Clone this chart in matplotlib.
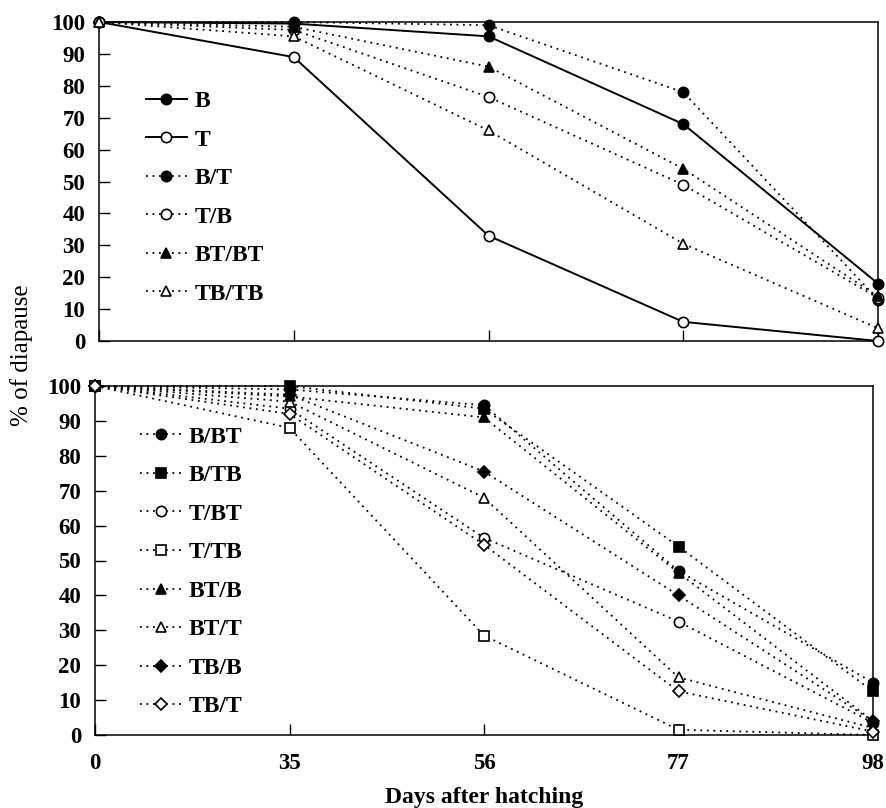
import matplotlib
matplotlib.use("Agg")
import matplotlib.pyplot as plt

plt.rcParams['font.family'] = ['Liberation Serif', 'DejaVu Serif']

# Sampling days (drawn at equal spacing)
days = ["0", "35", "56", "77", "98"]

# Upper panel: parental and reciprocal crosses
top_series = {
    "B":     [100, 99.5, 95.5, 68, 18],
    "T":     [100, 89, 33, 6, 0],
    "B/T":   [100, 100, 99, 78, 13],
    "T/B":   [100, 97.5, 76.5, 49, 13.5],
    "BT/BT": [100, 98.5, 86, 54, 14],
    "TB/TB": [100, 95.5, 66, 30.5, 4],
}
top_styles = {
    "B":     dict(ls="-",  marker="o", fill=True),
    "T":     dict(ls="-",  marker="o", fill=False),
    "B/T":   dict(ls=":",  marker="o", fill=True),
    "T/B":   dict(ls=":",  marker="o", fill=False),
    "BT/BT": dict(ls=":",  marker="^", fill=True),
    "TB/TB": dict(ls=":",  marker="^", fill=False),
}

# Lower panel: backcrosses
bottom_series = {
    "B/BT": [100, 99, 94.5, 47, 15],
    "B/TB": [100, 100, 93.5, 54, 12.5],
    "T/BT": [100, 93.5, 56.5, 32.5, 3.5],
    "T/TB": [100, 88, 28.5, 1.5, 0],
    "BT/B": [100, 97, 91, 46.5, 4],
    "BT/T": [100, 95.5, 68, 16.5, 2],
    "TB/B": [100, 97.5, 75.5, 40, 4],
    "TB/T": [100, 92, 54.5, 12.5, 1],
}
bottom_styles = {
    "B/BT": dict(ls=":", marker="o", fill=True),
    "B/TB": dict(ls=":", marker="s", fill=True),
    "T/BT": dict(ls=":", marker="o", fill=False),
    "T/TB": dict(ls=":", marker="s", fill=False),
    "BT/B": dict(ls=":", marker="^", fill=True),
    "BT/T": dict(ls=":", marker="^", fill=False),
    "TB/B": dict(ls=":", marker="D", fill=True),
    "TB/T": dict(ls=":", marker="D", fill=False),
}

yticks = list(range(0, 101, 10))

fig = plt.figure(figsize=(8.86, 8.08), dpi=100)
ax1 = fig.add_axes([99 / 886, 1 - 341 / 808, (878 - 99) / 886, (341 - 22) / 808])
ax2 = fig.add_axes([95 / 886, 1 - 735 / 808, (873 - 95) / 886, (735 - 386) / 808])

x = list(range(len(days)))


def draw(ax, series, styles, legend_anchor):
    for name, vals in series.items():
        st = styles[name]
        ms = 5.8 if st["marker"] == "D" else (6.8 if st["marker"] in ("^", "s") else 7.4)
        ls = (0, (1, 2.6)) if st["ls"] == ":" else "-"
        ax.plot(x, vals, linestyle=ls, color="black", lw=1.3 if st["ls"] == ":" else 1.4,
                marker=st["marker"], markersize=ms,
                markerfacecolor="black" if st["fill"] else "white",
                markeredgecolor="black", markeredgewidth=1.2,
                clip_on=False, zorder=3, label=name)
    ax.set_xlim(0, len(days) - 1)
    ax.set_ylim(0, 100)
    ax.set_yticks(yticks)
    ax.set_xticks(x)
    ax.tick_params(axis="both", direction="in", length=8, width=1.0,
                   labelsize=16.5, top=False, right=False)
    ax.tick_params(axis="y", pad=10)
    ax.tick_params(axis="x", pad=13)
    for lab in ax.get_yticklabels() + ax.get_xticklabels():
        lab.set_fontweight("bold")
    for sp in ax.spines.values():
        sp.set_linewidth(1.1)
    ax.legend(loc="upper left", bbox_to_anchor=legend_anchor,
              frameon=False, handlelength=1.75, handletextpad=0.3,
              labelspacing=0.72, borderaxespad=0,
              prop=dict(family="Liberation Serif", weight="bold", size=17))


draw(ax1, top_series, top_styles, (0.048, 0.815))
ax1.set_xticklabels([])
draw(ax2, bottom_series, bottom_styles, (0.046, 0.912))
ax2.set_xticklabels(days)
for lab in ax2.get_xticklabels():
    lab.set_fontweight("bold")

ax2.set_xlabel("Days after hatching", fontsize=17, fontweight="bold", labelpad=9)
fig.text(0.024, 0.56, "% of diapause", rotation=90, ha="center", va="center", fontsize=18)

fig.savefig("out.png", dpi=100)
